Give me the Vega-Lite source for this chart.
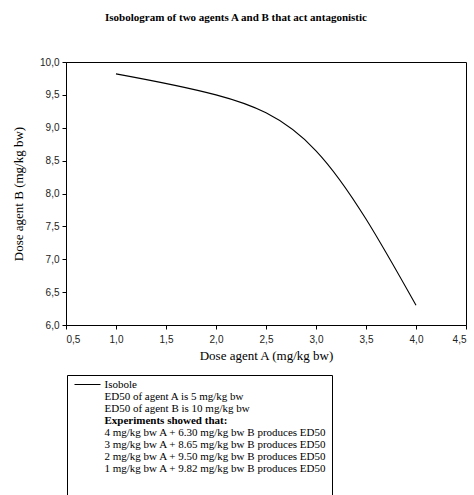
{
  "$schema": "https://vega.github.io/schema/vega-lite/v6.json",
  "width": 400,
  "height": 263,
  "autosize": {"type": "none"},
  "padding": {"left": 66, "top": 62, "right": 8, "bottom": 170},
  "background": "white",
  "title": {
    "text": "Isobologram of two agents A and B that act antagonistic",
    "font": "Liberation Serif",
    "fontSize": 11,
    "fontWeight": "bold",
    "color": "black",
    "anchor": "middle",
    "dx": -30,
    "offset": 34
  },
  "data": {
    "values": [
      {"doseA": 1, "doseB": 9.82, "series": "Isobole"},
      {"doseA": 2, "doseB": 9.50, "series": "Isobole"},
      {"doseA": 3, "doseB": 8.65, "series": "Isobole"},
      {"doseA": 4, "doseB": 6.30, "series": "Isobole"}
    ]
  },
  "mark": {"type": "line", "interpolate": "natural", "strokeWidth": 1.1},
  "encoding": {
    "x": {
      "field": "doseA",
      "type": "quantitative",
      "scale": {"domain": [0.5, 4.5], "nice": false, "zero": false},
      "axis": {
        "title": "Dose agent A (mg/kg bw)",
        "values": [0.5, 1, 1.5, 2, 2.5, 3, 3.5, 4, 4.5],
        "labelExpr": "replace(format(datum.value, '.1f'), '.', ',')",
        "labelPadding": 5,
        "titlePadding": 5,
        "titleFontWeight": "normal"
      }
    },
    "y": {
      "field": "doseB",
      "type": "quantitative",
      "scale": {"domain": [6, 10], "nice": false, "zero": false},
      "axis": {
        "title": "Dose agent B (mg/kg bw)",
        "values": [6, 6.5, 7, 7.5, 8, 8.5, 9, 9.5, 10],
        "labelExpr": "replace(format(datum.value, '.1f'), '.', ',')",
        "labelPadding": 3,
        "titlePadding": 14,
        "titleFontWeight": "normal"
      }
    },
    "stroke": {
      "field": "series",
      "type": "nominal",
      "scale": {
        "domain": [
          "Isobole",
          "ED50 of agent A is 5 mg/kg bw",
          "ED50 of agent B is 10 mg/kg bw",
          "Experiments showed that:",
          "4 mg/kg bw A + 6.30 mg/kg bw B produces ED50",
          "3 mg/kg bw A + 8.65 mg/kg bw B produces ED50",
          "2 mg/kg bw A + 9.50 mg/kg bw B produces ED50",
          "1 mg/kg bw A + 9.82 mg/kg bw B produces ED50"
        ],
        "range": ["black", "black", "black", "black", "black", "black", "black", "black"]
      },
      "legend": {
        "orient": "none",
        "legendX": 1,
        "legendY": 313,
        "direction": "vertical",
        "columns": 1,
        "title": " ",
        "titleOrient": "bottom",
        "titlePadding": 40,
        "titleFontSize": 10,
        "padding": 5,
        "strokeColor": "black",
        "fillColor": "white",
        "symbolType": "stroke",
        "symbolSize": 676,
        "symbolStrokeWidth": 1.2,
        "symbolOffset": 1.5,
        "labelOffset": 3,
        "labelFont": "Liberation Serif",
        "labelFontSize": 11,
        "labelColor": "black",
        "labelLimit": 400,
        "clipHeight": 9,
        "rowPadding": 0,
        "encode": {
          "symbols": {
            "update": {
              "strokeOpacity": {"signal": "datum.value === 'Isobole' ? 1 : 0"}
            }
          },
          "labels": {
            "update": {
              "fontWeight": {"signal": "datum.value === 'Experiments showed that:' ? 'bold' : 'normal'"}
            }
          }
        }
      }
    }
  },
  "config": {
    "view": {"stroke": "black", "strokeWidth": 1},
    "axis": {
      "grid": false,
      "domainColor": "black",
      "tickColor": "black",
      "tickSize": 4,
      "labelFont": "Liberation Sans",
      "labelFontSize": 10,
      "labelColor": "#222222",
      "titleFont": "Liberation Serif",
      "titleFontSize": 13,
      "titleFontWeight": "normal",
      "titleColor": "black"
    }
  }
}
